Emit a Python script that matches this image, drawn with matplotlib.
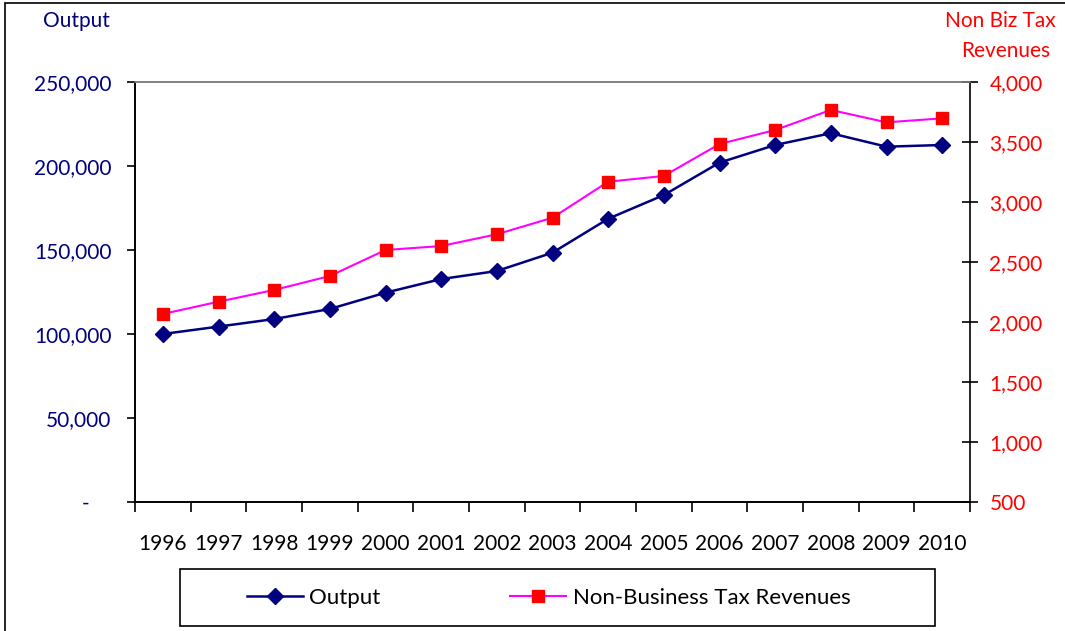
import matplotlib

matplotlib.use("Agg")
import matplotlib.pyplot as plt
from matplotlib.lines import Line2D
from matplotlib.patches import Rectangle
from matplotlib.ticker import FixedLocator, FuncFormatter

# данные
YEARS = ["1996", "1997", "1998", "1999", "2000", "2001", "2002", "2003",
         "2004", "2005", "2006", "2007", "2008", "2009", "2010"]
OUTPUT = [100000, 104400, 108900, 114900, 124600, 132700, 137500, 148400,
          168600, 182700, 202000, 212500, 219500, 211500, 212500]
NON_BIZ_TAX = [2067, 2169, 2267, 2383, 2600, 2633, 2731, 2869,
               3169, 3217, 3483, 3600, 3767, 3664, 3697]

NAVY = "#000080"
MAGENTA = "#ff00ff"
RED = "#ff0000"
FONT = "Lato"

plt.rcParams["font.family"] = [FONT, "DejaVu Sans"]

W, H = 1065, 631
fig = plt.figure(figsize=(W / 100, H / 100), dpi=100, facecolor="white")

# рамка вокруг всего графика (справа и снизу обрезана)
fig.patches.append(Rectangle((5 / W, -0.05), 1.2, 1.05 - 3 / H,
                             transform=fig.transFigure, fill=False,
                             edgecolor="black", linewidth=1.2))

ax = fig.add_axes([135 / W, (H - 502) / H, 835 / W, 420 / H])
ax2 = ax.twinx()

x = list(range(len(YEARS)))
ax.plot(x, OUTPUT, color=NAVY, linewidth=1.8, marker="D", markersize=8,
        markerfacecolor=NAVY, markeredgecolor=NAVY, zorder=3)
ax2.plot(x, NON_BIZ_TAX, color=MAGENTA, linewidth=1.5, marker="s", markersize=9,
         markerfacecolor=RED, markeredgecolor=RED, zorder=3)

ax.set_xlim(-0.5, len(YEARS) - 0.5)
ax.set_ylim(0, 250000)
ax2.set_ylim(500, 4000)

# ось X: подписи по центру категорий, засечки на границах
ax.set_xticks(x)
ax.set_xticklabels(YEARS, fontsize=15, color="black")
ax.tick_params(axis="x", which="major", length=0, pad=23)
ax.xaxis.set_minor_locator(FixedLocator([i - 0.5 for i in range(len(YEARS) + 1)]))
ax.tick_params(axis="x", which="minor", direction="out", length=7, width=1.2,
               color="black")

ax.set_yticks(range(0, 250001, 50000))
ax.yaxis.set_major_formatter(
    FuncFormatter(lambda v, p: "-    " if v == 0 else f"{int(v):,}"))
ax.tick_params(axis="y", direction="out", length=6, width=1.2, pad=11,
               labelsize=15, labelcolor=NAVY, color="black")

ax2.set_yticks(range(500, 4001, 500))
ax2.yaxis.set_major_formatter(FuncFormatter(lambda v, p: f"{int(v):,}"))
ax2.tick_params(axis="y", direction="inout", length=12, width=1.2, pad=8,
                labelsize=15, labelcolor=RED, color="black")

for a in (ax, ax2):
    a.spines["top"].set_color("#808080")
    for side in ("top", "left", "bottom", "right"):
        a.spines[side].set_linewidth(1.2)
ax.spines["right"].set_visible(False)

fig.text(76 / W, 1 - 21 / H, "Output", color=NAVY, fontsize=15,
         ha="center", va="center")
fig.text(1056 / W, 1 - 21 / H, "Non Biz Tax", color=RED, fontsize=15,
         ha="right", va="center")
fig.text(1050 / W, 1 - 51 / H, "Revenues", color=RED, fontsize=15,
         ha="right", va="center")

# легенда: рамка отдельно, записи без рамки
fig.patches.append(Rectangle((180 / W, 1 - 626 / H), 755 / W, 57 / H,
                             transform=fig.transFigure, fill=False,
                             edgecolor="black", linewidth=1.2))
handles = [
    Line2D([], [], color=NAVY, linewidth=1.8, marker="D", markersize=8),
    Line2D([], [], color=MAGENTA, linewidth=1.5, marker="s", markersize=9,
           markerfacecolor=RED, markeredgecolor=RED),
]
fig.legend(handles, ["Output", "Non-Business Tax Revenues"],
           loc="center left", bbox_to_anchor=(247 / W, 1 - 598 / H), ncol=2,
           prop={"family": [FONT], "size": 16}, frameon=False,
           handlelength=2.5, handletextpad=0.3, columnspacing=5.85,
           borderpad=0, borderaxespad=0)

fig.savefig("out.png", dpi=100, facecolor="white")
